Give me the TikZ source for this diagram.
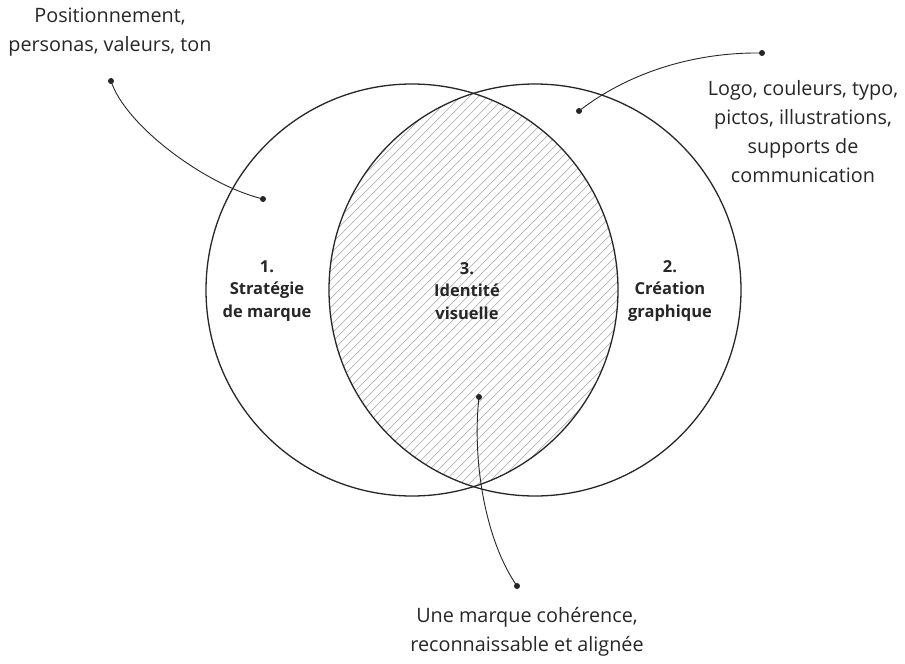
\documentclass[tikz,border=0pt]{standalone}
\usepackage{fontspec}
\setmainfont{Open Sans}

\definecolor{ink}{HTML}{262626}
\definecolor{hatch}{HTML}{B4B4B4}

\tikzset{
  ring/.style={draw=ink, line width=1.3pt},
  callout/.style={draw=ink, line width=0.9pt},
  note/.style={align=center, text=ink, font=\fontsize{19.8}{29}\selectfont},
  zone/.style={align=center, text=ink, font=\bfseries\fontsize{16.5}{22.5}\selectfont},
}

\begin{document}
\begin{tikzpicture}[x=1pt, y=-1pt]
  \useasboundingbox (0,0) rectangle (905,664);
            {
    \def\strategycircle{(412,290) circle (206pt)}
    \def\designcircle{(535,290) circle (206pt)}

    \begin{scope}
        \clip \strategycircle;
        \clip \designcircle;
        \foreach \x in {-150,-141,...,700}
            \draw[hatch, line width=0.7pt] (\x,500) -- ++(420,-420);
    \end{scope}

    \draw[ring] \strategycircle;
    \draw[ring] \designcircle;
}

    \node[zone] (strategy) at (267,291) {1.\\Stratégie\\de marque};
    \node[zone] (identity) at (467,291) {3.\\Identité\\visuelle};
    \node[zone] (design) at (670,291) {2.\\Création\\graphique};

    \node[note] (positioning) at (110,32) {Positionnement,\\personas, valeurs, ton};
    \node[note] (assets) at (803,132) {Logo, couleurs, typo,\\pictos, illustrations,\\supports de\\communication};
    \node[note] (result) at (527,632) {Une marque cohérence,\\reconnaissable et alignée};

    \coordinate (posout) at (111,81);
    \coordinate (posin) at (263,199);
    \coordinate (assetsin) at (579,111);
    \coordinate (assetsout) at (762,53);
    \coordinate (resultin) at (479,397);
    \coordinate (resultout) at (517,586);

    \draw[callout] (posout) .. controls +(14,44) and +(-58,-14) .. (posin);
    \draw[callout] (assetsin) .. controls +(46,-36) and +(-72,-1) .. (assetsout);
    \draw[callout] (resultin) .. controls +(-7,63) and +(-32,-46) .. (resultout);

    \foreach \p in {posout, posin, assetsin, assetsout, resultin, resultout}
        \fill[ink] (\p) circle (3pt);

        \end{tikzpicture}
\end{document}
